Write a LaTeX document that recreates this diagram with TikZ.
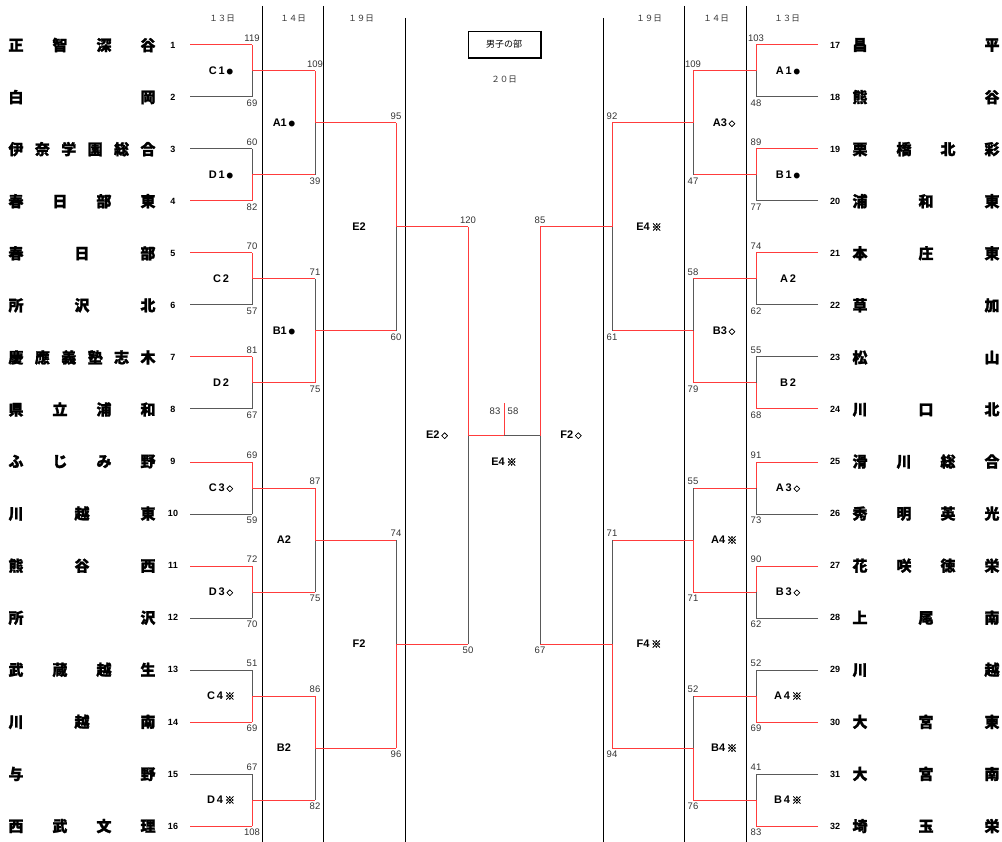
\documentclass[tikz,border=0pt]{standalone}
\usepackage{fontspec}
\setmainfont{Liberation Sans}
\newfontfamily\cjk{Noto Sans CJK JP}
\newfontfamily\cjkb{Noto Sans CJK JP}[FakeBold=1.6]
\newfontfamily\cjkk{Noto Sans CJK JP}[FakeBold=3.5]
\definecolor{winred}{RGB}{255,60,60}

\newcommand{\maru}{\raisebox{0.6pt}{\cjk\fontsize{6.5}{6.5}\selectfont ●}}
\newcommand{\hishi}{\raisebox{0.6pt}{\cjkk\fontsize{6.5}{6.5}\selectfont ◇}}
\newcommand{\kome}{{\cjkk\fontsize{10}{10}\selectfont ※}}
\newcommand{\spread}[1]{\expandafter\spreadA#1\relax}
\def\spreadA#1#2{#1\ifx\relax#2\else\hfill\expandafter\spreadA\expandafter#2\fi}

\tikzset{
	won/.style={draw=winred, line width=1pt},
	lost/.style={draw=black!65, line width=1pt},
	feed/.style={},
	colline/.style={draw=black, line width=1pt},
	score/.style={inner sep=0pt, font=\fontsize{9.5}{9.5}\selectfont, text=black!80},
	tnum/.style={inner sep=0pt, font=\fontsize{9}{9}\selectfont\bfseries},
	tname/.style={inner sep=0pt, font=\cjkb\bfseries\fontsize{15}{15}\selectfont},
	mlabel/.style={inner sep=0pt, font=\fontsize{11}{11}\selectfont\bfseries},
	dayhead/.style={inner sep=0pt, font=\cjk\fontsize{8.5}{8.5}\selectfont, text=black!80}
}

% #1 x of the upright, #2 x where the two lines come in, #3/#4 upper/lower y, #5/#6 scores, #7/#8 styles
\newcommand{\bout}[8]{%
	\draw[#7,feed] (#2,#3) -- (#1,#3);
	\draw[#7] (#1,#3) -- (#1,{(#3+#4)/2});
	\draw[#8,feed] (#2,#4) -- (#1,#4);
	\draw[#8] (#1,#4) -- (#1,{(#3+#4)/2});
	\node[score] at (#1,#3-7) {#5};
	\node[score] at (#1,#4+6) {#6};
}

\begin{document}
\begin{tikzpicture}[x=1pt, y=-1pt]
	\useasboundingbox (0,0) rectangle (1002,842);

	\draw[colline] (262,6) -- (262,842);
	\draw[colline] (323,6) -- (323,842);
	\draw[colline] (405,18) -- (405,842);
	\draw[colline] (603,18) -- (603,842);
	\draw[colline] (684,6) -- (684,842);
	\draw[colline] (746,6) -- (746,842);

	\node[dayhead] (d13l) at (222,19) {１３日};
	\node[dayhead] (d14l) at (293,19) {１４日};
	\node[dayhead] (d19l) at (361,19) {１９日};
	\node[dayhead] (d19r) at (649,19) {１９日};
	\node[dayhead] (d14r) at (716,19) {１４日};
	\node[dayhead] (d13r) at (787,19) {１３日};

	\node[draw, line width=0.8pt, minimum width=72, minimum height=26, font=\cjk\fontsize{9}{9}\selectfont] (title) at (504,44) {男子の部};
	\draw[line width=1pt] ([xshift=1pt]title.north east) -- ([xshift=1pt,yshift=-1pt]title.south east) -- ([yshift=-1pt]title.south west);
	\node[dayhead] (d20) at (504,80) {２０日};

	\foreach \i/\nm in {1/正智深谷, 2/白岡, 3/伊奈学園総合, 4/春日部東, 5/春日部, 6/所沢北, 7/慶應義塾志木, 8/県立浦和,
		9/ふじみ野, 10/川越東, 11/熊谷西, 12/所沢, 13/武蔵越生, 14/川越南, 15/与野, 16/西武文理} {
		\node[tnum] (n\i) at (173,{45+52.07*(\i-1)}) {\i};
		\node[tname] (t\i) at (82,{45+52.07*(\i-1)}) {\hbox to 147pt{\spread{\nm}}};
	}
	\foreach \i/\nm in {17/昌平, 18/熊谷, 19/栗橋北彩, 20/浦和東, 21/本庄東, 22/草加, 23/松山, 24/川口北,
		25/滑川総合, 26/秀明英光, 27/花咲徳栄, 28/上尾南, 29/川越, 30/大宮東, 31/大宮南, 32/埼玉栄} {
		\node[tnum] (n\i) at (835,{45+52.07*(\i-17)}) {\i};
		\node[tname] (t\i) at (926,{45+52.07*(\i-17)}) {\hbox to 147pt{\spread{\nm}}};
	}

	% 13th
	\bout{252}{190}{45}{97}{119}{69}{won}{lost}
	\bout{252}{190}{149}{201}{60}{82}{lost}{won}
	\bout{252}{190}{253}{305}{70}{57}{won}{lost}
	\bout{252}{190}{357}{409}{81}{67}{won}{lost}
	\bout{252}{190}{462}{514}{69}{59}{won}{lost}
	\bout{252}{190}{566}{618}{72}{70}{won}{lost}
	\bout{252}{190}{670}{722}{51}{69}{lost}{won}
	\bout{252}{190}{774}{826}{67}{108}{lost}{won}
	\bout{756}{818}{45}{97}{103}{48}{won}{lost}
	\bout{756}{818}{149}{201}{89}{77}{won}{lost}
	\bout{756}{818}{253}{305}{74}{62}{won}{lost}
	\bout{756}{818}{357}{409}{55}{68}{lost}{won}
	\bout{756}{818}{462}{514}{91}{73}{won}{lost}
	\bout{756}{818}{566}{618}{90}{62}{won}{lost}
	\bout{756}{818}{670}{722}{52}{69}{lost}{won}
	\bout{756}{818}{774}{826}{41}{83}{lost}{won}

	\node[mlabel] (c1) at (221,71) {C\,1\,\maru};
	\node[mlabel] (d1) at (221,175) {D\,1\,\maru};
	\node[mlabel] (c2) at (221,279) {C\,2};
	\node[mlabel] (d2) at (221,383) {D\,2};
	\node[mlabel] (c3) at (221,488) {C\,3\,\hishi};
	\node[mlabel] (d3) at (221,592) {D\,3\,\hishi};
	\node[mlabel] (c4) at (221,696) {C\,4\,\kome};
	\node[mlabel] (d4) at (221,800) {D\,4\,\kome};
	\node[mlabel] (a1r) at (788,71) {A\,1\,\maru};
	\node[mlabel] (b1r) at (788,175) {B\,1\,\maru};
	\node[mlabel] (a2r) at (788,279) {A\,2};
	\node[mlabel] (b2r) at (788,383) {B\,2};
	\node[mlabel] (a3r) at (788,488) {A\,3\,\hishi};
	\node[mlabel] (b3r) at (788,592) {B\,3\,\hishi};
	\node[mlabel] (a4r) at (788,696) {A\,4\,\kome};
	\node[mlabel] (b4r) at (788,800) {B\,4\,\kome};

	% 14th
	\tikzset{feed/.style={won}}
	\bout{315}{252}{71}{175}{109}{39}{won}{lost}
	\bout{315}{252}{279}{383}{71}{75}{lost}{won}
	\bout{315}{252}{488}{592}{87}{75}{won}{lost}
	\bout{315}{252}{696}{800}{86}{82}{won}{lost}
	\bout{693}{756}{71}{175}{109}{47}{won}{lost}
	\bout{693}{756}{279}{383}{58}{79}{lost}{won}
	\bout{693}{756}{488}{592}{55}{71}{lost}{won}
	\bout{693}{756}{696}{800}{52}{76}{lost}{won}

	\node[mlabel] (a1) at (284,123) {A1\,\maru};
	\node[mlabel] (b1) at (284,331) {B1\,\maru};
	\node[mlabel] (a2) at (284,540) {A2};
	\node[mlabel] (b2) at (284,748) {B2};
	\node[mlabel] (a3) at (724,123) {A3\,\hishi};
	\node[mlabel] (b3) at (724,331) {B3\,\hishi};
	\node[mlabel] (a4) at (724,540) {A4\,\kome};
	\node[mlabel] (b4) at (724,748) {B4\,\kome};

	% 19th
	\bout{396}{315}{123}{331}{95}{60}{won}{lost}
	\bout{396}{315}{540}{748}{74}{96}{lost}{won}
	\bout{612}{693}{123}{331}{92}{61}{won}{lost}
	\bout{612}{693}{540}{748}{71}{94}{lost}{won}

	\node[mlabel] (e2) at (359,227) {E2};
	\node[mlabel] (f2) at (359,644) {F2};
	\node[mlabel] (e4) at (649,227) {E4\,\kome};
	\node[mlabel] (f4) at (649,644) {F4\,\kome};

	% 20th
	\bout{468}{396}{227}{644}{120}{50}{won}{lost}
	\bout{540}{612}{227}{644}{85}{67}{won}{lost}
	\node[mlabel] (semil) at (437,435) {E2\,\hishi};
	\node[mlabel] (semir) at (571,435) {F2\,\hishi};

	\coordinate (fl) at (468,435.5);
	\coordinate (fm) at (504,435.5);
	\coordinate (fr) at (540,435.5);
	\coordinate (ftop) at (504,403);
	\draw[won] (fl) -- (fm) -- (ftop);
	\draw[lost] (fm) -- (fr);
	\node[score] (sl) at (495,411) {83};
	\node[score] (sr) at (513,411) {58};
	\node[mlabel] (final) at (504,462) {E4\,\kome};
\end{tikzpicture}
\end{document}
